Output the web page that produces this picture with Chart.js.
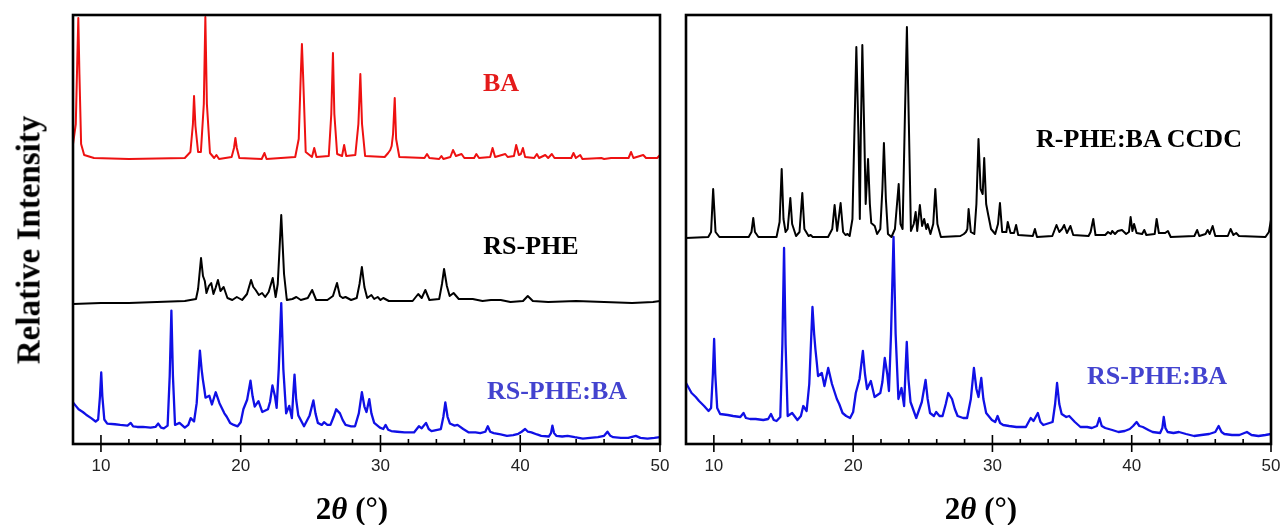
<!DOCTYPE html>
<html>
<head>
<meta charset="utf-8">
<script src="https://cdn.jsdelivr.net/npm/chart.js@4.4.1/dist/chart.umd.min.js"></script>
<style>
  body { margin: 0; background: #fff; width: 1282px; height: 525px; overflow: hidden; position: relative; font-family: "Liberation Serif", "Times New Roman", serif; }
  canvas { position: absolute; top: 0; }
  #left { left: 0; }
  #right { left: 672px; }
  .lab { position: absolute; font-weight: bold; font-size: 26px; line-height: 1; white-space: nowrap; transform: translate(-50%, -50%); }
  .xt { position: absolute; font-weight: bold; font-size: 31px; line-height: 1; white-space: nowrap; transform: translate(-50%, -50%); color: #000; }
  .yt { position: absolute; font-weight: bold; font-size: 33px; line-height: 1; white-space: nowrap; transform: translate(-50%, -50%) rotate(-90deg); color: #000; }
</style>
</head>
<body>
<canvas id="left" width="672" height="525"></canvas>
<canvas id="right" width="610" height="525"></canvas>

<div class="yt" style="left:29px; top:240px;">Relative Intensity</div>
<div class="xt" style="left:352px; top:508px;">2<i>θ</i> (°)</div>
<div class="xt" style="left:981px; top:508px;">2<i>θ</i> (°)</div>

<div class="lab" style="left:501px; top:83px; color:#e41b1b;">BA</div>
<div class="lab" style="left:531px; top:246px; color:#000;">RS-PHE</div>
<div class="lab" style="left:557px; top:391px; color:#4343cf;">RS-PHE:BA</div>
<div class="lab" style="left:1139px; top:139px; color:#000;">R-PHE:BA CCDC</div>
<div class="lab" style="left:1157px; top:376px; color:#4343cf;">RS-PHE:BA</div>

<script>
// x axis range / ticks (2theta, degrees)
const xMin = 8;
const xMax = 50;
const tickStep = 2;

// [2theta, intensity], arbitrary units
const baData = [
  [8.0, 300], [8.2, 320], [8.3, 380], [8.38, 426], [8.46, 370], [8.58, 300], [8.8, 289], [9.5, 286],
  [12, 285], [16.0, 286], [16.4, 292], [16.58, 320], [16.66, 348], [16.76, 318], [16.95, 292],
  [17.15, 292], [17.36, 340], [17.47, 427], [17.58, 340], [17.8, 291], [18.1, 286], [18.26, 289],
  [18.45, 285], [19.35, 287], [19.52, 296], [19.62, 306], [19.72, 296], [19.9, 286], [21.5, 285],
  [21.7, 291], [21.85, 285], [23.9, 287], [24.15, 305], [24.3, 370], [24.38, 400], [24.46, 370],
  [24.65, 292], [25.1, 287], [25.26, 296], [25.42, 287], [26.3, 288], [26.48, 330], [26.6, 391],
  [26.7, 330], [26.9, 290], [27.25, 288], [27.4, 299], [27.55, 288], [28.2, 289], [28.42, 320],
  [28.56, 370], [28.68, 320], [28.9, 288], [30.3, 287], [30.55, 291], [30.7, 294], [30.8, 298],
  [30.9, 310], [31.02, 346], [31.12, 305], [31.35, 287], [33.15, 286], [33.33, 290], [33.5, 286],
  [34.2, 285], [34.36, 288], [34.5, 285], [35.0, 287], [35.19, 294], [35.4, 288], [35.8, 290],
  [36.0, 286], [36.7, 286], [36.86, 290], [37.05, 286], [37.85, 287], [38.02, 296], [38.2, 287],
  [38.93, 290], [39.1, 287], [39.55, 288], [39.71, 299], [39.9, 289], [40.05, 290], [40.19, 296],
  [40.35, 287], [41.0, 286], [41.19, 290], [41.35, 286], [41.79, 289], [42.0, 286], [42.26, 290],
  [42.45, 286], [43.65, 286], [43.81, 291], [43.98, 286], [44.29, 289], [44.45, 285], [45.8, 286],
  [46.0, 285], [46.5, 286], [47.75, 286], [47.93, 292], [48.1, 286], [48.8, 289], [49.0, 286],
  [49.8, 286], [50, 289]
];

const rsPheData = [
  [8, 140], [10, 141], [12, 141], [14, 142], [16, 143], [16.8, 145], [16.95, 155], [17.16, 186],
  [17.3, 168], [17.43, 163], [17.55, 151], [17.72, 158], [17.89, 161], [18.05, 150], [18.2, 156],
  [18.37, 164], [18.55, 153], [18.78, 157], [19.05, 146], [19.4, 144], [19.72, 147], [20.1, 144],
  [20.45, 150], [20.74, 164], [20.9, 157], [21.07, 154], [21.3, 149], [21.53, 151], [21.75, 147],
  [22.0, 152], [22.29, 166], [22.5, 147], [22.65, 160], [22.9, 229], [23.1, 170], [23.3, 144],
  [23.7, 145], [23.98, 147], [24.3, 144], [24.8, 146], [25.11, 154], [25.4, 144], [26.2, 144],
  [26.6, 148], [26.89, 161], [27.1, 148], [27.3, 146], [27.5, 147], [27.9, 144], [28.3, 146],
  [28.5, 160], [28.67, 177], [28.85, 157], [29.05, 146], [29.35, 149], [29.55, 145], [29.8, 147],
  [30.0, 144], [30.2, 146], [30.6, 143], [32.3, 143], [32.7, 150], [32.95, 146], [33.21, 154],
  [33.5, 144], [34.2, 145], [34.4, 160], [34.55, 175], [34.75, 158], [34.95, 148], [35.23, 151],
  [35.6, 145], [36.6, 145], [37.3, 143], [37.9, 144], [38.6, 144], [39.3, 142], [40.2, 143],
  [40.54, 148], [40.9, 143], [42, 142], [44, 143], [46, 142], [48, 141], [49.5, 142], [50, 143]
];

const ccdcData = [
  [8, 206], [9.6, 207], [9.8, 212], [9.88, 235], [9.95, 255], [10.03, 235], [10.12, 212], [10.4, 207],
  [12.5, 207], [12.7, 212], [12.83, 226], [12.95, 212], [13.2, 207], [14.5, 207], [14.72, 222],
  [14.87, 275], [15.0, 225], [15.15, 212], [15.3, 215], [15.49, 246], [15.62, 220], [15.9, 208],
  [16.15, 212], [16.35, 251], [16.5, 215], [16.8, 208], [16.95, 209], [17.1, 207], [18.2, 207],
  [18.5, 215], [18.67, 239], [18.85, 213], [19.1, 241], [19.28, 212], [19.45, 209], [19.6, 210],
  [19.75, 208], [19.95, 225], [20.12, 330], [20.23, 397], [20.38, 310], [20.48, 225], [20.55, 310],
  [20.66, 399], [20.8, 310], [20.9, 240], [21.07, 285], [21.2, 240], [21.3, 221], [21.55, 218],
  [21.72, 210], [21.95, 215], [22.1, 255], [22.21, 301], [22.35, 245], [22.5, 210], [22.75, 207],
  [23.0, 215], [23.15, 240], [23.27, 260], [23.4, 220], [23.55, 215], [23.72, 330], [23.86, 417],
  [24.0, 320], [24.15, 213], [24.35, 220], [24.49, 232], [24.6, 213], [24.79, 239], [24.95, 218],
  [25.1, 225], [25.25, 215], [25.35, 220], [25.55, 210], [25.75, 220], [25.9, 255], [26.05, 220],
  [26.3, 207], [27.7, 208], [27.95, 210], [28.1, 212], [28.2, 215], [28.29, 235], [28.45, 212],
  [28.7, 210], [28.85, 240], [29.0, 305], [29.15, 255], [29.3, 250], [29.41, 286], [29.55, 240],
  [29.7, 229], [29.9, 215], [30.2, 210], [30.4, 220], [30.54, 241], [30.7, 212], [31.0, 212],
  [31.1, 222], [31.3, 211], [31.55, 211], [31.7, 219], [31.85, 209], [32.9, 208], [33.05, 215],
  [33.2, 207], [34.3, 208], [34.6, 219], [34.8, 212], [35.0, 215], [35.15, 219], [35.35, 211],
  [35.6, 218], [35.8, 209], [36.9, 208], [37.05, 212], [37.24, 225], [37.4, 209], [38.1, 209],
  [38.3, 212], [38.5, 210], [38.6, 213], [38.8, 210], [39.0, 213], [39.3, 214], [39.6, 210],
  [39.8, 212], [39.92, 227], [40.05, 213], [40.17, 220], [40.35, 211], [40.75, 210], [40.9, 214],
  [41.05, 209], [41.65, 210], [41.79, 225], [41.95, 211], [42.4, 211], [42.6, 213], [42.8, 207],
  [44.5, 208], [44.7, 214], [44.85, 208], [45.3, 210], [45.45, 214], [45.6, 210], [45.81, 218],
  [46.0, 208], [46.9, 208], [47.1, 215], [47.3, 209], [47.5, 211], [47.7, 208], [49.6, 207],
  [49.85, 212], [50, 224]
];

// experimental RS-PHE:BA, same pattern in both panels
const rsPheBaData = [
  [8.0, 61], [8.2, 56], [8.4, 51], [8.7, 47], [8.94, 43], [9.3, 38], [9.62, 33], [9.8, 36],
  [9.93, 70], [10.02, 105], [10.1, 70], [10.24, 36], [10.45, 30], [11.0, 29], [11.38, 28],
  [11.9, 27], [12.13, 31], [12.3, 26], [12.6, 25], [13.0, 25], [13.55, 24], [13.9, 25], [14.1, 30],
  [14.3, 24], [14.5, 23], [14.77, 27], [14.92, 100], [15.04, 196], [15.15, 100], [15.3, 28],
  [15.62, 31], [16.0, 24], [16.25, 28], [16.42, 38], [16.66, 33], [16.85, 60], [17.08, 137],
  [17.2, 110], [17.29, 95], [17.4, 80], [17.48, 68], [17.75, 71], [17.94, 58], [18.21, 76],
  [18.48, 60], [18.83, 45], [19.0, 40], [19.24, 31], [19.5, 28], [19.78, 26], [20.0, 32],
  [20.19, 51], [20.46, 65], [20.7, 93], [20.85, 70], [21.0, 55], [21.27, 63], [21.54, 47],
  [21.95, 51], [22.1, 62], [22.27, 86], [22.45, 70], [22.57, 53], [22.72, 110], [22.9, 207],
  [23.05, 110], [23.25, 45], [23.47, 56], [23.66, 38], [23.75, 70], [23.85, 102], [23.97, 65],
  [24.12, 42], [24.53, 26], [24.93, 42], [25.2, 64], [25.35, 45], [25.52, 31], [25.8, 28],
  [25.96, 32], [26.2, 28], [26.42, 28], [26.65, 40], [26.83, 51], [27.1, 45], [27.3, 35],
  [27.5, 28], [27.9, 26], [28.18, 26], [28.45, 45], [28.67, 76], [28.85, 55], [29.0, 47],
  [29.2, 66], [29.35, 45], [29.55, 31], [29.96, 24], [30.2, 22], [30.37, 28], [30.55, 21],
  [30.77, 19], [31.2, 18], [31.72, 17], [32.4, 17], [32.75, 26], [32.95, 23], [33.26, 31],
  [33.45, 22], [33.65, 19], [34.32, 22], [34.5, 40], [34.64, 61], [34.8, 40], [34.97, 30],
  [35.3, 27], [35.51, 28], [35.92, 22], [36.32, 17], [36.8, 17], [37.14, 16], [37.5, 18],
  [37.68, 26], [37.85, 18], [38.1, 16], [38.6, 14], [39.05, 12], [39.5, 13], [39.86, 15],
  [40.1, 18], [40.35, 22], [40.55, 18], [40.8, 17], [41.2, 14], [41.5, 12], [42.04, 11],
  [42.2, 16], [42.3, 27], [42.42, 16], [42.58, 12], [43.0, 11], [43.39, 12], [43.9, 10],
  [44.48, 8], [45.0, 9], [45.56, 10], [46.0, 12], [46.24, 18], [46.45, 12], [46.65, 10],
  [47.2, 9], [47.73, 9], [48.27, 12], [48.6, 9], [49.1, 8], [49.6, 9], [50, 10]
];

const toXY = (arr) => arr.map((p) => ({ x: p[0], y: p[1] }));

// frame box + inward tick marks, drawn over the data
const framePlugin = {
  id: "frame",
  afterDatasetsDraw(chart) {
    const ctx = chart.ctx;
    const a = chart.chartArea;
    const xs = chart.scales.x;
    ctx.save();
    ctx.strokeStyle = "#000";
    ctx.lineWidth = 1.6;
    xs.ticks.forEach((t) => {
      const px = xs.getPixelForValue(t.value);
      const major = t.value % 10 === 0;
      ctx.beginPath();
      ctx.moveTo(px, a.bottom - (major ? 9 : 5));
      ctx.lineTo(px, a.bottom + (major ? 8 : 0));
      ctx.stroke();
    });
    ctx.lineWidth = 2.6;
    ctx.strokeRect(a.left, a.top, a.right - a.left, a.bottom - a.top);
    ctx.restore();
  },
};

function xAxis() {
  return {
    type: "linear",
    min: xMin,
    max: xMax,
    grid: { display: false, drawTicks: false },
    border: { display: false },
    // fixed axis band; no extra room for the end labels
    afterFit: (s) => {
      s.height = 81;
      s.paddingLeft = 0;
      s.paddingRight = 0;
    },
    ticks: {
      stepSize: tickStep,
      autoSkip: false,
      maxRotation: 0,
      padding: 12,
      color: "#222",
      font: { family: "'Liberation Sans', Arial, sans-serif", size: 17 },
      callback: (v) => (v % 10 === 0 ? v : ""),
    },
  };
}

function line(data, color, axis, width) {
  return {
    data: toXY(data),
    borderColor: color,
    borderWidth: width,
    pointRadius: 0,
    tension: 0,
    borderJoinStyle: "round",
    yAxisID: axis,
  };
}

const baseOptions = (padLeft, padRight, extraY) => ({
  responsive: false,
  animation: false,
  layout: { padding: { left: padLeft, right: padRight, top: 15, bottom: 0 } },
  plugins: { legend: { display: false }, tooltip: { enabled: false } },
  scales: Object.assign({ x: xAxis() }, extraY),
});

new Chart(document.getElementById("left"), {
  type: "line",
  plugins: [framePlugin],
  data: {
    datasets: [
      line(baData, "#ee1111", "y", 2),
      line(rsPheData, "#000000", "y", 2),
      line(rsPheBaData, "#1010e6", "yb", 2.3),
    ],
  },
  options: baseOptions(73, 12, {
    y: { display: false, min: 0, max: 429 },
    yb: { display: false, min: 0, max: 630 },
  }),
});

new Chart(document.getElementById("right"), {
  type: "line",
  plugins: [framePlugin],
  data: {
    datasets: [
      line(ccdcData, "#000000", "y", 2),
      line(rsPheBaData, "#1010e6", "y", 2.3),
    ],
  },
  options: baseOptions(14, 11, {
    y: { display: false, min: 0, max: 429 },
  }),
});
</script>
</body>
</html>
